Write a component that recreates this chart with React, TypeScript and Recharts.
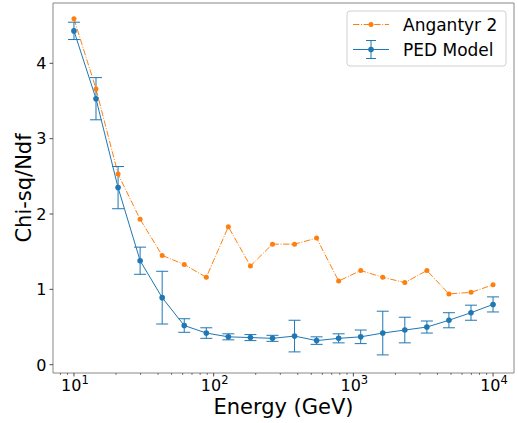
import React from "react";
import { LineChart, Line, XAxis, YAxis, ErrorBar, ReferenceArea } from "recharts";

const energies = [10, 14.38, 20.69, 29.76, 42.81, 61.58, 88.59, 127.4, 183.3, 263.7, 379.3, 545.6, 784.8, 1129, 1624, 2336, 3360, 4833, 6952, 10000];
const angantyr = [4.59, 3.66, 2.53, 1.93, 1.45, 1.33, 1.16, 1.83, 1.31, 1.6, 1.6, 1.68, 1.11, 1.25, 1.16, 1.09, 1.25, 0.94, 0.96, 1.06];
const ped = [4.43, 3.53, 2.35, 1.38, 0.89, 0.52, 0.42, 0.37, 0.36, 0.35, 0.38, 0.32, 0.35, 0.37, 0.42, 0.46, 0.5, 0.59, 0.69, 0.8];
const pedErr = [0.115, 0.28, 0.28, 0.18, 0.35, 0.09, 0.07, 0.04, 0.04, 0.04, 0.21, 0.05, 0.06, 0.09, 0.29, 0.17, 0.08, 0.1, 0.1, 0.1];

const seriesNames = ["Angantyr 2", "PED Model"];
const xMajorTicks = [10, 100, 1000, 10000];
const xMinorTicks = [8, 9, 20, 30, 40, 50, 60, 70, 80, 90, 200, 300, 400, 500, 600, 700, 800, 900, 2000, 3000, 4000, 5000, 6000, 7000, 8000, 9000];
const yTicks = [0, 1, 2, 3, 4];
const xDomain = [Math.pow(10, 0.85), Math.pow(10, 4.15)];
const yDomain = [-0.11, 4.8];

const data = energies.map((e, i) => ({ e, ang: angantyr[i], ped: ped[i], err: pedErr[i] }));

const BLUE = "#1f77b4";
const ORANGE = "#ff7f0e";
const FONT = "DejaVu Sans";

const XTick = (props: any) => {
  const { x, y, payload } = props;
  const v = payload.value;
  const exp = Math.round(Math.log10(v));
  const major = Math.abs(Math.pow(10, exp) - v) < 1e-6;
  return (
    <g>
      <line x1={x} x2={x} y1={y} y2={y + (major ? 3.5 : 2)} stroke="#222" strokeWidth={major ? 0.8 : 0.6} />
      {major && (
        <text x={x + 1} y={y + 18} textAnchor="middle" fontSize={16} fontFamily={FONT} fill="#000">
          10<tspan dy={-7} fontSize={11.5}>{exp}</tspan>
        </text>
      )}
    </g>
  );
};

const YTick = (props: any) => {
  const { x, y, payload } = props;
  return (
    <g>
      <line x1={x} x2={x - 3.5} y1={y} y2={y} stroke="#222" strokeWidth={0.8} />
      <text x={x - 6.5} y={y + 5.8} textAnchor="end" fontSize={16} fontFamily={FONT} fill="#000">
        {payload.value}
      </text>
    </g>
  );
};

const XLabel = (props: any) => {
  const vb = props.viewBox || {};
  return (
    <text x={vb.x + vb.width / 2} y={vb.y + vb.height - 9.5} textAnchor="middle" fontSize={21} fontFamily={FONT} fill="#000">
      Energy (GeV)
    </text>
  );
};

const YLabel = (props: any) => {
  const vb = props.viewBox || {};
  const cx = vb.x + 31;
  const cy = vb.y + vb.height / 2;
  return (
    <text x={cx} y={cy} transform={`rotate(-90 ${cx} ${cy})`} textAnchor="middle" fontSize={21} fontFamily={FONT} fill="#000">
      Chi-sq/Ndf
    </text>
  );
};

const LegendBox = () => (
  <svg width={162} height={58} style={{ position: "absolute", left: 346, top: 10 }}>
    <rect x={1} y={1} width={159} height={55} rx={3} ry={3} fill="rgba(255,255,255,0.8)" stroke="#d0d0d0" strokeWidth={1} />
    <line x1={7} x2={43} y1={14.5} y2={14.5} stroke={ORANGE} strokeWidth={1} strokeDasharray="6.4 1.6 1 1.6" />
    <circle cx={25} cy={14.5} r={2.5} fill={ORANGE} />
    <text x={57} y={20.5} fontSize={17} fontFamily={FONT} fill="#000">{seriesNames[0]}</text>
    <line x1={7} x2={43} y1={39.5} y2={39.5} stroke={BLUE} strokeWidth={1} />
    <line x1={25} x2={25} y1={30.5} y2={48.5} stroke={BLUE} strokeWidth={1} />
    <line x1={20} x2={30} y1={30.5} y2={30.5} stroke={BLUE} strokeWidth={1} />
    <line x1={20} x2={30} y1={48.5} y2={48.5} stroke={BLUE} strokeWidth={1} />
    <circle cx={25} cy={39.5} r={2.8} fill={BLUE} />
    <text x={57} y={45.5} fontSize={17} fontFamily={FONT} fill="#000">{seriesNames[1]}</text>
  </svg>
);

export default function App() {
  return (
    <div style={{ position: "absolute", left: 0, top: 0, width: 518, height: 423, background: "#fff" }}>
      <LineChart width={518} height={423} data={data} margin={{ top: 3, right: 4, bottom: 0, left: 0 }}>
        <XAxis
          dataKey="e"
          type="number"
          scale="log"
          domain={xDomain}
          allowDataOverflow
          ticks={[...xMajorTicks, ...xMinorTicks]}
          interval={0}
          tick={<XTick />}
          tickLine={false}
          tickSize={0}
          tickMargin={0}
          axisLine={false}
          height={50}
          label={<XLabel />}
        />
        <YAxis
          type="number"
          domain={yDomain}
          allowDataOverflow
          ticks={yTicks}
          interval={0}
          tick={<YTick />}
          tickLine={false}
          tickSize={0}
          tickMargin={0}
          axisLine={false}
          width={53}
          label={<YLabel />}
        />
        <ReferenceArea x1={xDomain[0]} x2={xDomain[1]} y1={yDomain[0]} y2={yDomain[1]} fill="none" stroke="#888" strokeWidth={1} ifOverflow="visible" />
        <Line
          dataKey="ang"
          name={seriesNames[0]}
          stroke={ORANGE}
          strokeWidth={1}
          strokeDasharray="6.4 1.6 1 1.6"
          dot={{ r: 2.5, fill: ORANGE, stroke: "none", strokeDasharray: "none" }}
          activeDot={false}
          isAnimationActive={false}
        />
        <Line
          dataKey="ped"
          name={seriesNames[1]}
          stroke={BLUE}
          strokeWidth={1}
          dot={{ r: 2.8, fill: BLUE, stroke: "none" }}
          activeDot={false}
          isAnimationActive={false}
        >
          <ErrorBar dataKey="err" direction="y" width={6} stroke={BLUE} strokeWidth={1} isAnimationActive={false} />
        </Line>
      </LineChart>
      <LegendBox />
    </div>
  );
}
